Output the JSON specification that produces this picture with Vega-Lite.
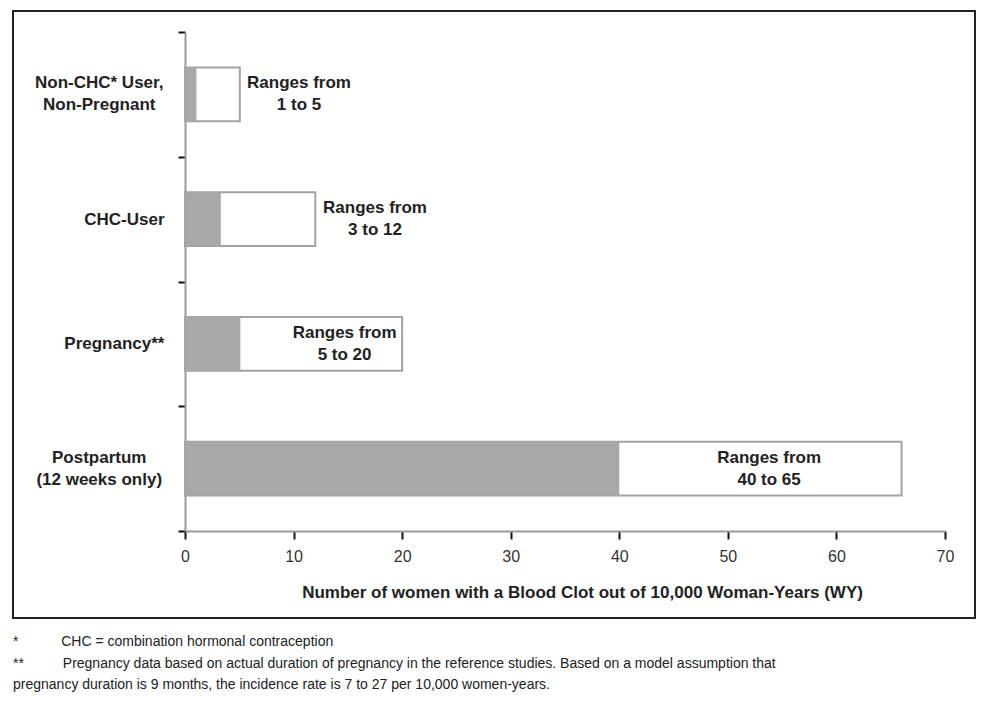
{
  "$schema": "https://vega.github.io/schema/vega-lite/v6.json",
  "width": 962,
  "height": 607,
  "padding": {"left": 13, "top": 2, "right": 8, "bottom": 0},
  "autosize": {"type": "pad"},
  "background": "white",
  "title": {
    "text": [
      "*\u00a0\u00a0\u00a0\u00a0\u00a0\u00a0\u00a0\u00a0\u00a0\u00a0\u00a0CHC = combination hormonal contraception",
      "**\u00a0\u00a0\u00a0\u00a0\u00a0\u00a0\u00a0\u00a0\u00a0\u00a0Pregnancy data based on actual duration of pregnancy in the reference studies. Based on a model assumption that",
      "pregnancy duration is 9 months, the incidence rate is 7 to 27 per 10,000 women-years."
    ],
    "orient": "bottom",
    "anchor": "start",
    "frame": "group",
    "offset": 17,
    "font": "Liberation Sans, Arial, sans-serif",
    "fontSize": 14,
    "fontWeight": "normal",
    "color": "#222",
    "lineHeight": 21.5
  },
  "config": {
    "view": {"stroke": "#222", "strokeWidth": 2},
    "font": "Liberation Sans, Arial, sans-serif"
  },
  "data": {
    "values": [
      {"group": "Non-CHC* User,\nNon-Pregnant", "low": 1.05, "high": 5.05, "label_at": 10.5, "note": "Ranges from\n1 to 5"},
      {"group": "CHC-User", "low": 3.3, "high": 12, "label_at": 17.5, "note": "Ranges from\n3 to 12"},
      {"group": "Pregnancy**", "low": 5.1, "high": 20, "label_at": 14.7, "note": "Ranges from\n5 to 20"},
      {"group": "Postpartum\n(12 weeks only)", "low": 40, "high": 66, "label_at": 53.8, "note": "Ranges from\n40 to 65"}
    ]
  },
  "encoding": {
    "y": {
      "field": "group",
      "type": "nominal",
      "sort": null,
      "scale": {"range": [21, 520], "paddingInner": 0, "paddingOuter": 0},
      "axis": {
        "title": null,
        "offset": -172,
        "domainColor": "#9a9a9a",
        "domainWidth": 2,
        "tickColor": "#111",
        "tickWidth": 2,
        "tickSize": 7,
        "tickBand": "extent",
        "labelPadding": 14,
        "labelFontSize": 17,
        "labelFontWeight": "bold",
        "labelColor": "#222",
        "labelLimit": 0,
        "labelExpr": "length(split(datum.label, '\\n')) > 1 ? '' : datum.label"
      }
    }
  },
  "layer": [
    {
      "mark": {"type": "bar", "fill": "white", "stroke": "#a3a3a3", "strokeWidth": 2, "height": {"band": 0.43}},
      "encoding": {
        "x": {
          "field": "high",
          "type": "quantitative",
          "scale": {"domain": [0, 70], "range": [172, 932]},
          "title": "Number of women with a Blood Clot out of 10,000 Woman-Years (WY)",
          "axis": {
            "orient": "bottom",
            "offset": -87,
            "values": [0, 10, 20, 30, 40, 50, 60, 70],
            "grid": false,
            "labelFlush": false,
            "domainColor": "#9a9a9a",
            "domainWidth": 2,
            "tickColor": "#111",
            "tickWidth": 2,
            "tickSize": 8,
            "labelPadding": 9,
            "labelFontSize": 16,
            "labelColor": "#333",
            "titleFontSize": 17,
            "titleFontWeight": "bold",
            "titleColor": "#222",
            "titlePadding": 20,
            "titleX": 569
          }
        }
      }
    },
    {
      "mark": {"type": "bar", "fill": "#a7a8aa", "height": {"band": 0.43}},
      "encoding": {
        "x": {"field": "low", "type": "quantitative", "title": "Number of women with a Blood Clot out of 10,000 Woman-Years (WY)"}
      }
    },
    {
      "mark": {"type": "text", "lineBreak": "\n", "fontSize": 17, "fontWeight": "bold", "color": "#222", "align": "center", "baseline": "middle", "lineHeight": 22, "dy": -11},
      "encoding": {
        "x": {"field": "label_at", "type": "quantitative", "title": "Number of women with a Blood Clot out of 10,000 Woman-Years (WY)"},
        "text": {"field": "note"}
      }
    },
    {
      "transform": [{"filter": "length(split(datum.group, '\\n')) > 1"}],
      "mark": {"type": "text", "lineBreak": "\n", "fontSize": 17, "fontWeight": "bold", "color": "#222", "align": "center", "baseline": "middle", "lineHeight": 22, "dy": -11},
      "encoding": {
        "x": {"datum": -7.9},
        "text": {"field": "group"}
      }
    }
  ]
}
